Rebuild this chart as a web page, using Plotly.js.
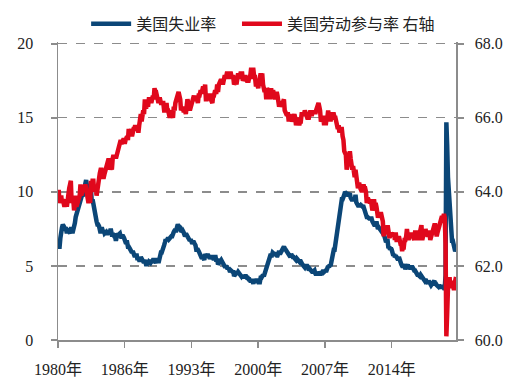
<!DOCTYPE html>
<html>
<head>
<meta charset="utf-8">
<script src="https://cdn.plot.ly/plotly-3.0.1.min.js"></script>
<style>html,body{margin:0;padding:0;background:#fff;}#chart{width:522px;height:392px;}</style>
</head>
<body>
<div id="chart"></div>
<script>
// Monthly series starting January 1980
var startYear = 1980;
var seriesNames = ['美国失业率', '美国劳动参与率 右轴'];

var unemploymentRate = [
6.3,6.3,6.3,6.9,7.5,7.6,7.8,7.7,7.5,7.5,7.5,7.2,
7.5,7.4,7.4,7.2,7.5,7.5,7.2,7.4,7.6,7.9,8.3,8.5,
8.6,8.9,9.0,9.3,9.4,9.6,9.8,9.8,10.1,10.4,10.8,10.8,
10.4,10.4,10.3,10.2,10.1,10.1,9.4,9.5,9.2,8.8,8.5,8.3,
8.0,7.8,7.8,7.7,7.4,7.2,7.5,7.5,7.3,7.4,7.2,7.3,
7.3,7.2,7.2,7.3,7.2,7.4,7.4,7.1,7.1,7.1,7.0,7.0,
6.7,7.2,7.2,7.1,7.2,7.2,7.0,6.9,7.0,7.0,6.9,6.6,
6.6,6.6,6.6,6.3,6.3,6.2,6.1,6.0,5.9,6.0,5.8,5.7,
5.7,5.7,5.7,5.4,5.6,5.4,5.4,5.6,5.4,5.4,5.3,5.3,
5.4,5.2,5.0,5.2,5.2,5.3,5.2,5.2,5.3,5.3,5.4,5.4,
5.4,5.3,5.2,5.4,5.4,5.2,5.5,5.7,5.9,5.9,6.2,6.3,
6.4,6.6,6.8,6.7,6.9,6.9,6.8,6.9,6.9,7.0,7.0,7.3,
7.3,7.4,7.4,7.4,7.6,7.8,7.7,7.6,7.6,7.3,7.4,7.4,
7.3,7.1,7.0,7.1,7.1,7.0,6.9,6.8,6.7,6.8,6.6,6.5,
6.6,6.6,6.5,6.4,6.1,6.1,6.1,6.0,5.9,5.8,5.6,5.5,
5.6,5.4,5.4,5.8,5.6,5.6,5.7,5.7,5.6,5.5,5.6,5.6,
5.6,5.5,5.5,5.6,5.6,5.3,5.5,5.1,5.2,5.2,5.4,5.4,
5.3,5.2,5.2,5.1,4.9,5.0,4.9,4.8,4.9,4.7,4.6,4.7,
4.6,4.6,4.7,4.3,4.4,4.5,4.5,4.5,4.6,4.5,4.4,4.4,
4.3,4.4,4.2,4.3,4.2,4.3,4.3,4.2,4.2,4.1,4.1,4.0,
4.0,4.1,4.0,3.8,4.0,4.0,4.0,4.1,3.9,3.9,3.9,3.9,
4.2,4.2,4.3,4.4,4.3,4.5,4.6,4.9,5.0,5.3,5.5,5.7,
5.7,5.7,5.7,5.9,5.8,5.8,5.8,5.7,5.7,5.7,5.9,6.0,
5.8,5.9,5.9,6.0,6.1,6.3,6.2,6.1,6.1,6.0,5.8,5.7,
5.7,5.6,5.8,5.6,5.6,5.6,5.5,5.4,5.4,5.5,5.4,5.4,
5.3,5.4,5.2,5.2,5.1,5.0,5.0,4.9,5.0,5.0,5.0,4.9,
4.7,4.8,4.7,4.7,4.6,4.6,4.7,4.7,4.5,4.4,4.5,4.4,
4.6,4.5,4.4,4.5,4.4,4.6,4.7,4.6,4.7,4.7,4.7,5.0,
5.0,4.9,5.1,5.0,5.4,5.6,5.8,6.1,6.1,6.5,6.8,7.3,
7.8,8.3,8.7,9.0,9.4,9.5,9.5,9.6,9.8,10.0,9.9,9.9,
9.8,9.8,9.9,9.9,9.6,9.4,9.4,9.5,9.5,9.4,9.8,9.3,
9.1,9.0,9.0,9.1,9.0,9.1,9.0,9.0,9.0,8.8,8.6,8.5,
8.3,8.3,8.2,8.2,8.2,8.2,8.2,8.0,7.8,7.8,7.7,7.9,
8.0,7.7,7.5,7.6,7.5,7.5,7.3,7.2,7.2,7.2,6.9,6.7,
6.6,6.7,6.7,6.2,6.3,6.1,6.2,6.1,5.9,5.7,5.8,5.6,
5.7,5.5,5.4,5.4,5.6,5.3,5.2,5.1,5.0,5.0,5.1,5.0,
4.8,4.9,5.0,5.1,4.8,4.9,4.8,4.9,5.0,4.9,4.7,4.7,
4.7,4.6,4.4,4.4,4.4,4.3,4.3,4.4,4.3,4.2,4.2,4.1,
4.0,4.1,4.0,4.0,3.8,4.0,3.8,3.8,3.7,3.8,3.8,3.9,
4.0,3.8,3.8,3.7,3.6,3.6,3.7,3.6,3.5,3.6,3.6,3.6,
3.5,3.5,4.4,14.7,13.2,11.0,10.2,8.4,7.8,6.9,6.7,6.7,
6.4,6.2,6.0,6.1
];

var participationRate = [
64.0,64.0,63.7,63.8,63.9,63.7,63.8,63.7,63.6,63.7,63.8,63.6,
63.9,63.9,64.1,64.2,64.3,63.7,63.8,63.8,63.5,63.8,63.9,63.6,
63.7,63.8,63.8,63.9,64.2,63.9,64.0,64.1,64.1,64.1,64.2,64.1,
63.9,63.8,63.7,63.8,63.7,64.3,64.1,64.3,64.3,64.0,64.1,64.1,
63.9,64.1,64.1,64.3,64.5,64.6,64.6,64.4,64.4,64.4,64.5,64.6,
64.7,64.7,64.9,64.9,64.8,64.6,64.7,64.6,64.9,65.0,64.9,65.0,
64.9,65.0,65.1,65.1,65.2,65.4,65.4,65.3,65.4,65.4,65.4,65.3,
65.4,65.5,65.5,65.4,65.7,65.5,65.6,65.7,65.5,65.7,65.7,65.7,
65.8,65.7,65.7,65.8,65.6,65.8,65.9,66.1,65.9,66.0,66.2,66.1,
66.5,66.3,66.3,66.4,66.3,66.5,66.5,66.5,66.4,66.5,66.6,66.5,
66.8,66.7,66.7,66.6,66.6,66.4,66.5,66.5,66.4,66.4,66.4,66.4,
66.2,66.2,66.3,66.4,66.2,66.2,66.1,66.0,66.2,66.1,66.1,66.0,
66.3,66.2,66.4,66.5,66.6,66.7,66.7,66.6,66.5,66.2,66.3,66.3,
66.2,66.2,66.2,66.1,66.4,66.5,66.4,66.4,66.2,66.3,66.3,66.4,
66.6,66.6,66.5,66.5,66.6,66.4,66.4,66.6,66.6,66.7,66.7,66.7,
66.8,66.8,66.7,66.9,66.5,66.5,66.6,66.6,66.6,66.6,66.5,66.4,
66.4,66.6,66.6,66.7,66.7,66.7,66.9,66.7,66.9,67.0,67.0,67.0,
67.0,66.9,67.1,67.1,67.1,67.1,67.2,67.2,67.1,67.1,67.2,67.2,
67.1,67.1,67.1,66.9,67.0,67.0,66.9,67.0,67.2,67.1,67.1,67.2,
67.2,67.2,67.0,67.1,67.1,67.1,67.0,67.0,67.0,67.0,67.1,67.1,
67.3,67.3,67.3,67.3,67.1,67.1,66.9,66.9,66.9,66.8,66.9,67.0,
67.2,67.1,67.2,66.9,66.7,66.7,66.8,66.5,66.8,66.7,66.7,66.7,
66.5,66.8,66.6,66.7,66.7,66.6,66.5,66.6,66.7,66.6,66.4,66.3,
66.4,66.4,66.3,66.4,66.4,66.5,66.2,66.1,66.1,66.1,66.1,65.9,
66.1,66.0,66.0,65.9,66.0,66.1,66.1,66.0,65.8,65.9,66.0,65.9,
65.8,65.9,65.9,66.1,66.1,66.1,66.1,66.2,66.1,66.1,66.0,66.0,
66.0,66.1,66.2,66.1,66.1,66.2,66.1,66.2,66.1,66.2,66.3,66.4,
66.4,66.3,66.2,65.9,66.0,66.0,66.0,65.8,66.0,65.8,66.0,66.0,
66.2,66.0,66.1,65.9,66.1,66.1,66.1,66.1,66.0,66.0,65.9,65.8,
65.7,65.8,65.6,65.7,65.7,65.7,65.5,65.4,65.1,65.0,65.0,64.6,
64.8,64.9,64.9,65.1,64.9,64.6,64.6,64.7,64.6,64.4,64.6,64.3,
64.2,64.1,64.2,64.2,64.1,64.0,64.0,64.1,64.2,64.1,64.1,64.0,
63.7,63.8,63.8,63.7,63.7,63.8,63.7,63.5,63.6,63.8,63.6,63.7,
63.6,63.4,63.3,63.4,63.4,63.4,63.4,63.3,63.2,62.8,63.0,62.9,
62.9,62.9,63.1,62.8,62.8,62.8,62.9,62.9,62.8,62.9,62.9,62.7,
62.9,62.7,62.7,62.7,62.8,62.6,62.6,62.6,62.4,62.5,62.5,62.7,
62.7,62.8,63.0,62.8,62.7,62.8,62.8,62.8,62.9,62.8,62.7,62.7,
62.9,62.9,62.9,62.9,62.7,62.8,62.9,62.9,63.1,62.7,62.9,62.9,
62.8,63.0,62.9,62.8,62.8,62.9,62.9,62.7,62.8,62.9,62.9,63.0,
63.1,63.1,63.0,62.8,62.9,63.0,63.1,63.2,63.2,63.3,63.3,63.3,
63.4,63.3,62.6,60.1,60.7,61.4,61.5,61.7,61.4,61.6,61.5,61.5,
61.4,61.4,61.6,61.7
];

var tickDates = ['1980-01-01', '1986-12-01', '1993-11-01', '2000-10-01', '2007-09-01', '2014-08-01'];
var tickLabels = ['1980年', '1986年', '1993年', '2000年', '2007年', '2014年'];
var leftTicks = [0, 5, 10, 15, 20];
var rightTicks = [60, 62, 64, 66, 68];

function monthDates(n) {
  var out = [];
  for (var i = 0; i < n; i++) {
    var y = startYear + Math.floor(i / 12);
    var m = (i % 12) + 1;
    out.push(y + '-' + (m < 10 ? '0' + m : m) + '-01');
  }
  return out;
}
var dates = monthDates(unemploymentRate.length);

var gray = '#8c8c8c';
var tickFont = {family: 'Liberation Serif, Noto Sans CJK SC, serif', size: 16, color: '#222'};
var legendFont = {family: 'Noto Sans CJK SC, sans-serif', size: 16, color: '#222'};

var traces = [
  {x: dates, y: unemploymentRate, name: seriesNames[0], type: 'scatter', mode: 'lines',
   line: {color: '#0b4677', width: 4.5}, yaxis: 'y', legend: 'legend'},
  {x: monthDates(participationRate.length), y: participationRate, name: seriesNames[1], type: 'scatter', mode: 'lines',
   line: {color: '#e0081c', width: 4.5}, yaxis: 'y2', legend: 'legend2'}
];

var layout = {
  width: 522, height: 392,
  margin: {l: 58, r: 66, t: 42, b: 52},
  paper_bgcolor: '#fff', plot_bgcolor: '#fff',
  showlegend: true,
  legend: {orientation: 'h', xref: 'container', yref: 'container', x: 0.165, xanchor: 'left', y: 0.939, yanchor: 'middle',
           font: legendFont, itemwidth: 40, bgcolor: 'rgba(0,0,0,0)'},
  legend2: {orientation: 'h', xref: 'container', yref: 'container', x: 0.454, xanchor: 'left', y: 0.939, yanchor: 'middle',
           font: legendFont, itemwidth: 40, bgcolor: 'rgba(0,0,0,0)'},
  xaxis: {type: 'date', range: [dates[0], dates[dates.length - 1]],
          tickmode: 'array', tickvals: tickDates, ticktext: tickLabels,
          showgrid: false, zeroline: false, showline: true, linecolor: gray, linewidth: 1.5,
          ticks: 'outside', ticklen: 6, tickcolor: gray, tickwidth: 1.5, tickfont: tickFont, ticklabelstandoff: 8},
  yaxis: {range: [0, 20.12], tickvals: leftTicks, showgrid: true, gridcolor: gray, gridwidth: 1.3, griddash: 'dash',
          zeroline: false, showline: true, linecolor: gray, linewidth: 1.5,
          ticks: 'outside', ticklen: 6, tickcolor: gray, tickwidth: 1.5, tickfont: tickFont, ticklabelstandoff: 14},
  yaxis2: {range: [60, 68.048], tickvals: rightTicks, tickformat: '.1f', overlaying: 'y', side: 'right',
           showgrid: false, zeroline: false, showline: true, linecolor: gray, linewidth: 1.5,
           ticks: 'outside', ticklen: 6, tickcolor: gray, tickwidth: 1.5, tickfont: tickFont, ticklabelstandoff: 8}
};

Plotly.newPlot('chart', traces, layout, {displayModeBar: false, staticPlot: true});
</script>
</body>
</html>
